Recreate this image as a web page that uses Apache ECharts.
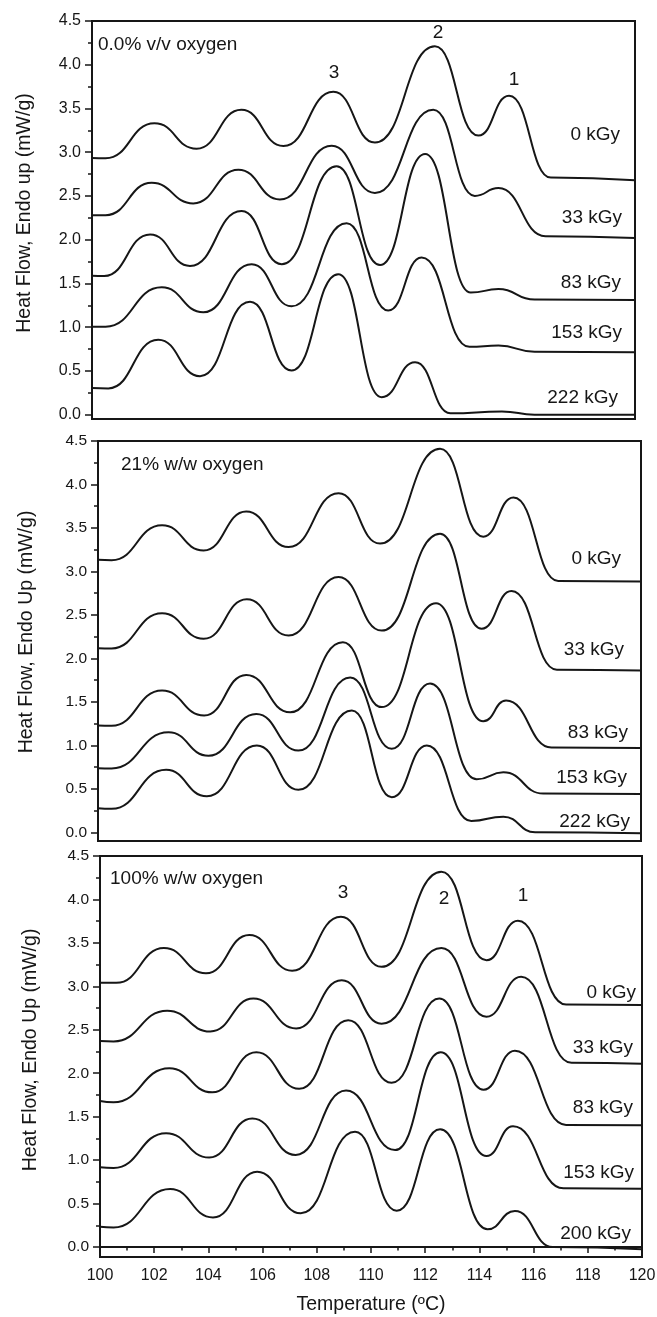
<!DOCTYPE html>
<html>
<head>
<meta charset="utf-8">
<title>DSC curves</title>
<script src="https://cdn.jsdelivr.net/npm/echarts@6/dist/echarts.min.js"></script>
<style>
  html, body { margin: 0; padding: 0; background: #fff; }
  #chart { width: 657px; height: 1317px; }
</style>
</head>
<body>
<div id="chart"></div>
<script>
// axis ticks
const xTickStep = 2;
const yTicks = [0, 0.5, 1, 1.5, 2, 2.5, 3, 3.5, 4, 4.5];
const yMinorTicks = [0.25, 0.75, 1.25, 1.75, 2.25, 2.75, 3.25, 3.75, 4.25];

// texts
const panelTitles = ["0.0% v/v oxygen", "21% w/w oxygen", "100% w/w oxygen"];
const yTitles = ["Heat Flow, Endo up (mW/g)", "Heat Flow, Endo Up (mW/g)", "Heat Flow, Endo Up (mW/g)"];
const xTitle = "Temperature (ºC)";
const dosesA = ["0 kGy", "33 kGy", "83 kGy", "153 kGy", "222 kGy"];
const dosesC = ["0 kGy", "33 kGy", "83 kGy", "153 kGy", "200 kGy"];
const peakNames = ["3", "2", "1"];

// panel 1 : 0.0% v/v oxygen  [temperature, heat flow] read at the extrema
const ox0_0kGy = [[100, 2.935], [100.5, 2.93], [102.3, 3.33], [103.85, 3.04], [105.5, 3.485], [107.05, 3.07], [108.89, 3.69], [110.42, 3.11], [112.63, 4.21], [114.23, 3.19], [115.36, 3.645], [116.9, 2.71], [120, 2.68]];
const ox0_33kGy = [[100, 2.28], [100.5, 2.28], [102.2, 2.65], [103.73, 2.415], [105.39, 2.8], [106.92, 2.46], [108.83, 3.075], [110.42, 2.535], [112.57, 3.485], [114.1, 2.5], [114.97, 2.59], [116.7, 2.04], [120, 2.02]];
const ox0_83kGy = [[100, 1.587], [100.45, 1.585], [102.14, 2.06], [103.61, 1.7], [105.51, 2.327], [106.99, 1.72], [109.01, 2.84], [110.61, 1.71], [112.27, 2.98], [113.95, 1.395], [114.97, 1.435], [116.3, 1.315], [120, 1.31]];
const ox0_153kGy = [[100, 1.006], [100.5, 1.005], [102.57, 1.455], [104.1, 1.17], [105.88, 1.72], [107.35, 1.238], [109.38, 2.187], [110.91, 1.19], [112.14, 1.796], [113.9, 0.775], [114.97, 0.79], [116.3, 0.72], [120, 0.714]];
const ox0_222kGy = [[100, 0.304], [100.6, 0.3], [102.44, 0.857], [103.98, 0.44], [105.82, 1.29], [107.35, 0.505], [109.07, 1.606], [110.67, 0.2], [111.9, 0.6], [113.2, 0.015], [115.1, 0.035], [116.3, 0.0], [120, 0.0]];

// panel 2 : 21% w/w oxygen
const ox21_0kGy = [[100, 3.135], [100.5, 3.13], [102.36, 3.53], [103.89, 3.24], [105.46, 3.69], [107.02, 3.28], [108.86, 3.9], [110.39, 3.32], [112.6, 4.41], [114.19, 3.4], [115.3, 3.85], [116.95, 2.89], [120, 2.885]];
const ox21_33kGy = [[100, 2.117], [100.5, 2.115], [102.36, 2.52], [103.89, 2.225], [105.48, 2.68], [107.02, 2.263], [108.86, 2.935], [110.45, 2.32], [112.6, 3.434], [114.13, 2.34], [115.23, 2.775], [116.9, 1.87], [120, 1.86]];
const ox21_83kGy = [[100, 1.228], [100.5, 1.225], [102.36, 1.63], [103.91, 1.343], [105.46, 1.81], [107.08, 1.38], [109.02, 2.186], [110.45, 1.44], [112.45, 2.635], [114.19, 1.277], [115.03, 1.515], [116.7, 0.975], [120, 0.97]];
const ox21_153kGy = [[100, 0.737], [100.5, 0.735], [102.6, 1.15], [104.07, 0.88], [105.83, 1.36], [107.38, 0.94], [109.29, 1.78], [110.82, 0.96], [112.23, 1.71], [113.95, 0.61], [114.93, 0.69], [116.4, 0.445], [120, 0.44]];
const ox21_222kGy = [[100, 0.276], [100.5, 0.27], [102.51, 0.718], [104.01, 0.415], [105.85, 0.998], [107.38, 0.488], [109.35, 1.4], [110.82, 0.403], [112.11, 0.998], [113.75, 0.13], [114.93, 0.18], [116.1, 0.0], [120, -0.01]];

// panel 3 : 100% w/w oxygen
const ox100_0kGy = [[100, 3.04], [100.6, 3.04], [102.36, 3.44], [103.91, 3.15], [105.51, 3.59], [107.09, 3.18], [108.89, 3.8], [110.39, 3.225], [112.6, 4.32], [114.26, 3.3], [115.42, 3.755], [117.2, 2.79], [120, 2.785]];
const ox100_33kGy = [[100, 2.37], [100.5, 2.365], [102.48, 2.72], [104.07, 2.48], [105.66, 2.86], [107.24, 2.515], [108.92, 3.07], [110.39, 2.57], [112.6, 3.44], [114.26, 2.65], [115.54, 3.11], [117.4, 2.12], [120, 2.11]];
const ox100_83kGy = [[100, 1.68], [100.5, 1.665], [102.56, 2.056], [104.14, 1.78], [105.77, 2.24], [107.35, 1.82], [109.16, 2.61], [110.76, 1.89], [112.52, 2.86], [114.15, 1.81], [115.31, 2.26], [117.2, 1.405], [120, 1.4]];
const ox100_153kGy = [[100, 0.917], [100.5, 0.91], [102.44, 1.31], [104.03, 1.03], [105.62, 1.48], [107.22, 1.06], [109.08, 1.8], [110.89, 1.116], [112.57, 2.24], [114.26, 1.047], [115.24, 1.39], [117.1, 0.675], [120, 0.67]];
const ox100_200kGy = [[100, 0.234], [100.5, 0.225], [102.59, 0.667], [104.17, 0.34], [105.8, 0.867], [107.41, 0.388], [109.41, 1.327], [110.95, 0.418], [112.55, 1.354], [114.3, 0.204], [115.31, 0.414], [116.7, 0.0], [120, -0.025]];

const FONT = '"Liberation Sans", Arial, sans-serif';
const INK = "#161616";

// layout of the three stacked frames (pixels)
const panels = [
  {
    grid: { left: 92, top: 21, width: 543, height: 398 }, yMin: -0.05, tickFont: 16,
    curves: [ox0_0kGy, ox0_33kGy, ox0_83kGy, ox0_153kGy, ox0_222kGy], doses: dosesA,
    dosePos: [[620, 135], [622, 218], [621, 283], [622, 333], [618, 398]],
    titlePos: [98, 45], yTitlePos: [25, 213],
    peakPos: [[334, 73], [438, 33], [514, 80]]
  },
  {
    grid: { left: 98, top: 441, width: 543, height: 400 }, yMin: -0.1, tickFont: 15.5,
    curves: [ox21_0kGy, ox21_33kGy, ox21_83kGy, ox21_153kGy, ox21_222kGy], doses: dosesA,
    dosePos: [[621, 559], [624, 650], [628, 733], [627, 778], [630, 822]],
    titlePos: [121, 465], yTitlePos: [27, 632],
    peakPos: []
  },
  {
    grid: { left: 100, top: 856, width: 542, height: 401 }, yMin: -0.115, tickFont: 15.5,
    curves: [ox100_0kGy, ox100_33kGy, ox100_83kGy, ox100_153kGy, ox100_200kGy], doses: dosesC,
    dosePos: [[636, 993], [633, 1048], [633, 1108], [634, 1173], [631, 1234]],
    titlePos: [110, 879], yTitlePos: [31, 1050],
    peakPos: [[343, 893], [444, 899], [523, 896]]
  }
];

const grid = [], xAxis = [], yAxis = [], series = [], graphic = [];

function text(str, x, y, size, align, rotation) {
  graphic.push({
    type: "text", x: x, y: y, rotation: rotation || 0, silent: true,
    style: { text: str, fill: INK, fontSize: size, fontFamily: FONT, align: align, verticalAlign: "middle" }
  });
}

panels.forEach((p, i) => {
  const last = i === panels.length - 1;
  grid.push(Object.assign({ show: true, borderColor: INK, borderWidth: 2, outerBoundsMode: "none" }, p.grid));

  xAxis.push({
    gridIndex: i, type: "value", min: 100, max: 120, interval: xTickStep,
    show: last,
    axisLine: { lineStyle: { color: INK, width: 2 } },
    axisTick: { length: 6, lineStyle: { color: INK, width: 1.5 } },
    minorTick: { show: true, splitNumber: 2, length: 3.5, lineStyle: { color: INK, width: 1.5 } },
    axisLabel: { color: INK, fontSize: 16, fontFamily: FONT, margin: 11 },
    splitLine: { show: false }
  });

  // major ticks with labels
  yAxis.push({
    gridIndex: i, type: "value", position: "left", min: p.yMin, max: 4.5,
    axisLine: { show: true, lineStyle: { color: INK, width: 2 } },
    axisTick: { show: true, customValues: yTicks, length: 7, lineStyle: { color: INK, width: 1.5 } },
    axisLabel: {
      customValues: yTicks, color: INK, fontSize: p.tickFont, fontFamily: FONT, margin: 11,
      formatter: v => Number(v).toFixed(1)
    },
    splitLine: { show: false }
  });
  // minor ticks
  yAxis.push({
    gridIndex: i, type: "value", position: "left", min: p.yMin, max: 4.5,
    axisLine: { show: false },
    axisTick: { show: true, customValues: yMinorTicks, length: 4, lineStyle: { color: INK, width: 1.5 } },
    axisLabel: { show: false },
    splitLine: { show: false }
  });

  p.curves.forEach((c, k) => {
    series.push({
      name: p.doses[k], type: "line", xAxisIndex: i, yAxisIndex: i * 2,
      data: c, showSymbol: false, smooth: 0.5, smoothMonotone: "x",
      lineStyle: { color: INK, width: 2 }, silent: true
    });
  });

  p.doses.forEach((d, k) => text(d, p.dosePos[k][0], p.dosePos[k][1], 19, "right"));
  text(panelTitles[i], p.titlePos[0], p.titlePos[1], 19, "left");
  text(yTitles[i], p.yTitlePos[0], p.yTitlePos[1], 19.5, "center", Math.PI / 2);
  p.peakPos.forEach((pos, k) => text(peakNames[k], pos[0], pos[1], 19, "center"));
});

text(xTitle, 371, 1305, 19.5, "center");

const chart = echarts.init(document.getElementById("chart"), null, { renderer: "canvas" });
chart.setOption({
  animation: false,
  backgroundColor: "#fff",
  grid: grid,
  xAxis: xAxis,
  yAxis: yAxis,
  series: series,
  graphic: graphic
});
window.addEventListener("resize", () => chart.resize());
</script>
</body>
</html>
